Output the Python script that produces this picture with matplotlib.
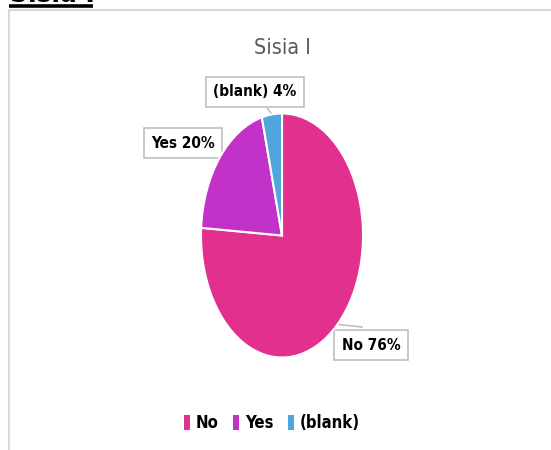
import numpy as np
import matplotlib.pyplot as plt
from matplotlib.lines import Line2D
from matplotlib.patches import Patch

# Respuestas de la encuesta
categories = ['No', 'Yes', '(blank)']
values = [76, 20, 4]
colors = ['#E2308F', '#C332C8', '#4FA6DC']
title = 'Sisia I'

W, H = 551, 450
plt.rcParams['font.family'] = ['Liberation Sans Narrow', 'DejaVu Sans']
plt.rcParams['font.stretch'] = 'condensed'
fig = plt.figure(figsize=(W / 100, H / 100), dpi=100)

# capa de fondo en pixeles (y hacia abajo)
bg = fig.add_axes([0, 0, 1, 1])
bg.set_xlim(0, W)
bg.set_ylim(H, 0)
bg.axis('off')

# marco del grafico
bg.add_line(Line2D([8.5, 8.5], [10, H], color='#D9D9D9', lw=1.5))
bg.add_line(Line2D([8.5, W], [10, 10], color='#D9D9D9', lw=1.5))

# titulo cortado arriba a la izquierda
bg.text(10, 1.5, title, fontsize=20, fontweight='bold', color='black',
        ha='left', va='baseline')
bg.add_line(Line2D([9, 93], [5.5, 5.5], color='black', lw=2.6,
                   solid_capstyle='butt'))

# pastel (elipse: radios distintos en x e y)
cx, cy, rx, ry = 282, 235.5, 81, 122
ax = fig.add_axes([0, 0, 1, 1])
wedges, _ = ax.pie(values, colors=colors, startangle=90, counterclock=False,
                   wedgeprops=dict(edgecolor='white', linewidth=1.5))
ax.set_aspect('auto')
ax.set_xlim(-cx / rx, (W - cx) / rx)
ax.set_ylim(-(H - cy) / ry, cy / ry)
ax.axis('off')

bg.text(cx, 48, title, fontsize=15.5, color='#595959', ha='center',
        va='center')

# etiquetas con lineas guia
label_pos = [(371, 345), (183, 143), (255, 92)]
line_end = [(362, 327), (218, 158), (265, 105)]
total = sum(values)
for w, cat, v, (tx, ty), (ex, ey) in zip(wedges, categories, values,
                                         label_pos, line_end):
    mid = np.deg2rad((w.theta1 + w.theta2) / 2)
    px = cx + rx * np.cos(mid)
    py = cy - ry * np.sin(mid)
    bg.plot([px, ex], [py, ey], color='#BFBFBF', lw=1.2, zorder=3)
    bg.text(tx, ty, f'{cat} {round(100 * v / total)}%', fontsize=11,
            fontweight='bold', color='black', ha='center', va='center',
            zorder=4,
            bbox=dict(boxstyle='square,pad=0.5', fc='white',
                      ec='#BFBFBF', lw=1.2))

# leyenda
handles = [Patch(facecolor=c, edgecolor='none') for c in colors]
bg.legend(handles, categories, loc='center', bbox_to_anchor=(272 / W, 1 - 423 / H),
          ncol=3, frameon=False, handlelength=0.35, handleheight=1.0,
          handletextpad=0.35, columnspacing=0.9,
          prop=dict(size=12, weight='bold'))

fig.savefig('out.png', dpi=100)
